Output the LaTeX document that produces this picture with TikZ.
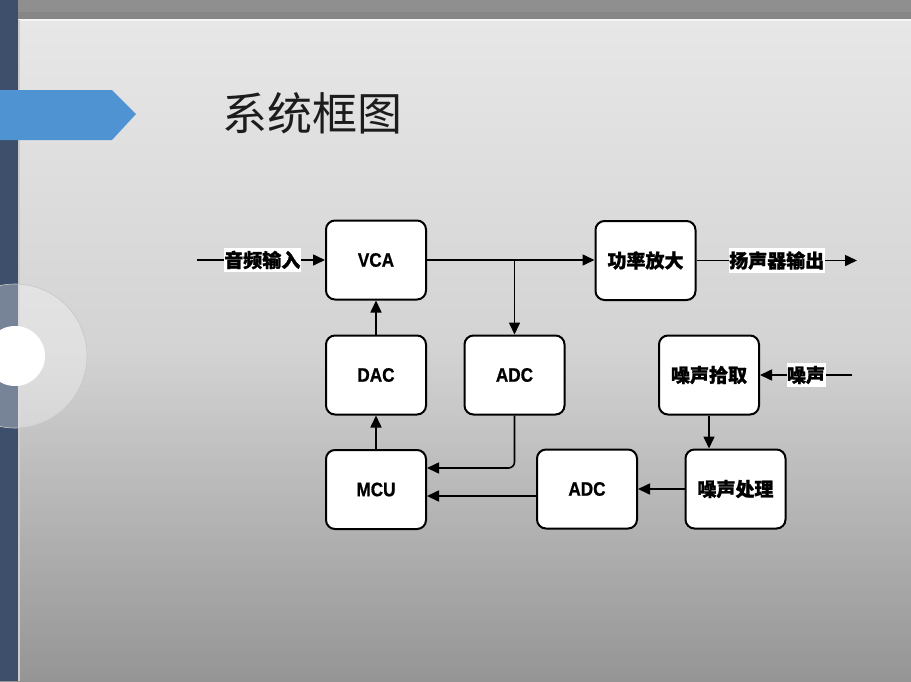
\documentclass[tikz,border=0pt]{standalone}
\usepackage{fontspec}
\setmainfont{Liberation Sans}[BoldFeatures={FakeBold=0.8}]
\newfontfamily\boxlatin{Liberation Sans}[FakeStretch=0.88, BoldFeatures={FakeBold=0.8}]
\newfontfamily\cjk{Noto Sans CJK SC}[BoldFeatures={FakeBold=1.2}]
\usetikzlibrary{arrows.meta,calc}
\definecolor{barblue}{HTML}{3D4F6B}
\definecolor{stripA}{HTML}{8F8F8F}
\definecolor{stripB}{HTML}{868686}
\definecolor{bgtop}{HTML}{E7E7E7}
\definecolor{bgmid}{HTML}{D3D3D3}
\definecolor{bgbot}{HTML}{959595}
\definecolor{banner}{HTML}{4F93D2}
\definecolor{titlecol}{HTML}{1C1C1C}
\tikzset{
  boxst/.style={draw=black, fill=white, line width=2pt, rounded corners=9pt,
    minimum width=100pt, minimum height=79pt, inner sep=0pt,
    font=\boxlatin\bfseries\fontsize{19.5}{22}\selectfont},
  cjkbox/.style={boxst, font=\cjk\bfseries\fontsize{19}{22}\selectfont},
  lab/.style={fill=white, inner xsep=0.5pt, inner ysep=3pt,
    font=\cjk\bfseries\fontsize{19}{22}\selectfont},
  arr/.style={line width=1.6pt, -{Triangle[length=12pt,width=11pt]}},
}
\begin{document}
\begin{tikzpicture}[x=1pt,y=-1pt]
\useasboundingbox (0,0) rectangle (911,681);
% background
\shade[top color=bgtop, bottom color=bgbot, middle color=bgmid] (0,19) rectangle (911,681);
\fill[stripA] (0,0) rectangle (911,12);
\fill[stripB] (0,12) rectangle (911,19);
\fill[white!92!gray] (19,19) rectangle (911,20.5);
\fill[barblue] (0,0) rectangle (17.5,681);
\fill[gray!40] (17.5,20) rectangle (19.5,681);
% decorative circle
\fill[white, opacity=0.3] (15,356) circle (72);
\draw[gray!45, line width=0.6pt] (15,356) circle (72);
\fill[white] (15,356) circle (30);
% banner
\fill[banner] (0,90) -- (112,90) -- (136,114) -- (112,140) -- (0,140) -- cycle;
% title
\node[font=\cjk\fontsize{45}{50}\selectfont, text=titlecol, anchor=center] (title) at (312,113) {系统框图};
% boxes
\node[boxst] (vca) at (376,260) {VCA};
\node[cjkbox] (amp) at (645.5,260.5) {功率放大};
\node[boxst] (dac) at (376,375) {DAC};
\node[boxst] (adca) at (514.5,375) {ADC};
\node[boxst] (mcu) at (376,489.5) {MCU};
\node[boxst] (adcb) at (587,489) {ADC};
\node[cjkbox] (proc) at (735.5,489) {噪声处理};
\node[cjkbox] (pick) at (709,375) {噪声拾取};
% free ends
\coordinate (inS) at (197,260);
\coordinate (outE) at (857,260.5);
\coordinate (noiseS) at (852,375);
% connectors
\draw[arr] (inS) -- (vca.west) node[lab, pos=0.51] {音频输入};
\draw[arr] (vca.east) -- (amp.west |- vca.east);
\draw[arr] (adca.north |- vca.east) -- (adca.north);
\draw[arr] (amp.east) -- (outE) node[lab, pos=0.5] {扬声器输出};
\draw[arr] (noiseS) -- (pick.east) node[lab, pos=0.5] {噪声};
\draw[arr] (pick.south) -- (pick.south |- proc.north);
\draw[arr] (proc.west) -- (adcb.east);
\draw[arr] ($(adcb.west)+(0,7)$) -- ($(mcu.east)+(0,6.5)$);
\draw[arr, rounded corners=6pt] (adca.south) |- ($(mcu.east)+(0,-21.5)$);
\draw[arr] (mcu.north) -- (dac.south);
\draw[arr] (dac.north) -- (vca.south);
\end{tikzpicture}
\end{document}
